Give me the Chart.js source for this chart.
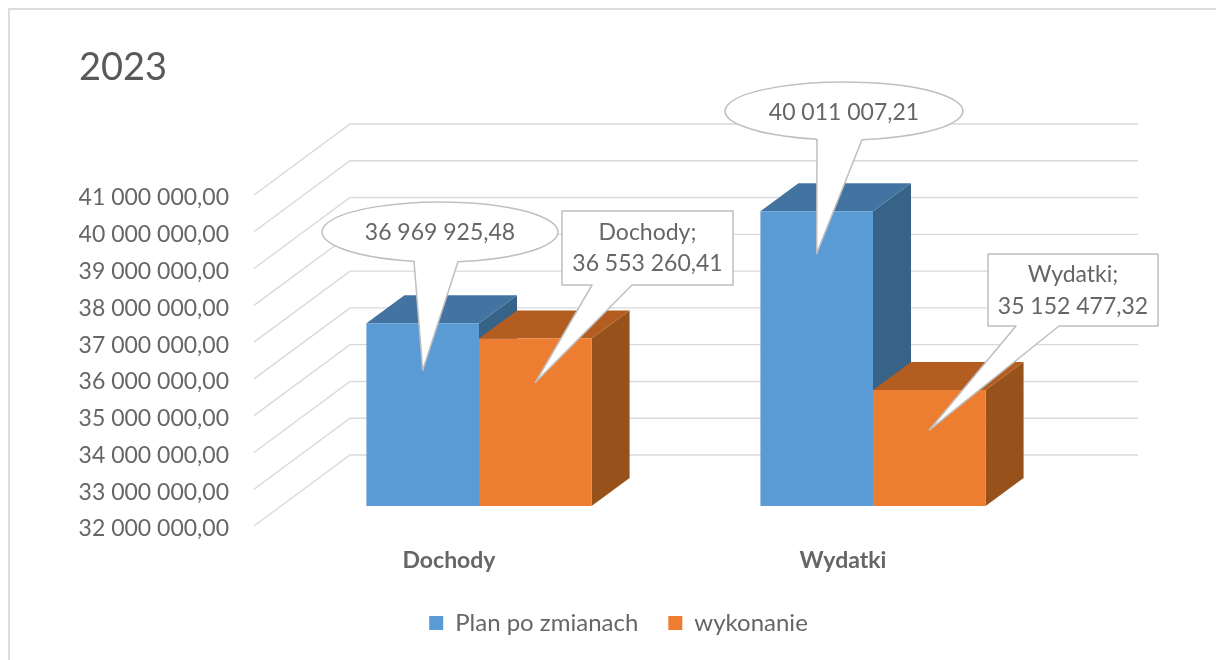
<!DOCTYPE html>
<html lang="pl">
<head>
<meta charset="utf-8">
<title>2023</title>
<style>html,body{margin:0;padding:0;background:#fff}canvas{display:block}</style>
<script src="https://cdn.jsdelivr.net/npm/chart.js@4/dist/chart.umd.min.js"></script>
</head>
<body>
<canvas id="c" width="1216" height="660"></canvas>
<script>
const categories = ["Dochody", "Wydatki"];
const planValues = [36969925.48, 40011007.21];
const actualValues = [36553260.41, 35152477.32];
const seriesNames = ["Plan po zmianach", "wykonanie"];
const axisMin = 32000000, axisMax = 41000000, axisStep = 1000000;

const FONT = "Lato, 'Open Sans', sans-serif";
const TEXT = "#666666";
const fmt = v => {
  const [i, d] = Math.abs(v).toFixed(2).split(".");
  return i.replace(/\B(?=(\d{3})+$)/g, " ") + "," + d;
};

const shades = [
  {top: "#4374A1", side: "#376388"},
  {top: "#B35D20", side: "#97521B"}
];
const barDepth = {dx: 38, dy: -28};
const wallDepth = {dx: 96, dy: -71};
const wallFrontX = 254, wallEndX = 1138, tickDrop = 20;

// One callout per bar: shape, balloon box, tail base on the balloon, tip offset under the bar top.
const callouts = [
  {ds: 0, i: 0, kind: "ellipse", cx: 440, cy: 232, rx: 118, ry: 30, base: [414, 458], tip: 47, lines: v => [fmt(v)], ty: [233]},
  {ds: 1, i: 0, kind: "rect", x0: 562, x1: 733, y0: 211, y1: 285, base: [592, 632], tip: 44, lines: (v, c) => [c + ";", fmt(v)], ty: [233, 264]},
  {ds: 0, i: 1, kind: "ellipse", cx: 844, cy: 111, rx: 119, ry: 29, base: [817, 862], tip: 42, lines: v => [fmt(v)], ty: [113]},
  {ds: 1, i: 1, kind: "rect", x0: 988, x1: 1158, y0: 254, y1: 326, base: [1016, 1059], tip: 40, lines: (v, c) => [c + ";", fmt(v)], ty: [275, 307]}
];

const scene = {
  id: "scene",
  beforeDraw(chart) {
    const c = chart.ctx;
    c.save();
    c.strokeStyle = "#dcdcdc"; c.lineWidth = 2;
    c.beginPath(); c.moveTo(1216, 9); c.lineTo(9, 9); c.lineTo(9, 660); c.stroke();
    c.restore();
    // put the legend where the reference has it
    const lg = chart.legend;
    if (!lg._moved) { lg.left += 44; lg.right += 44; lg.top = 581; lg._moved = true; }
  },
  beforeDatasetsDraw(chart) {
    const c = chart.ctx, y = chart.scales.y;
    c.save();
    c.strokeStyle = "#d9d9d9"; c.lineWidth = 1.4;
    y.ticks.forEach((t, k) => {
      const p = y.getPixelForTick(k) + tickDrop;
      c.beginPath();
      c.moveTo(wallFrontX, p);
      c.lineTo(wallFrontX + wallDepth.dx, p + wallDepth.dy);
      c.lineTo(wallEndX, p + wallDepth.dy);
      c.stroke();
    });
    chart.data.datasets.forEach((ds, d) => {
      chart.getDatasetMeta(d).data.forEach(b => {
        const l = b.x - b.width / 2, r = b.x + b.width / 2, t = b.y, bt = b.base;
        c.fillStyle = shades[d].side;
        c.beginPath();
        c.moveTo(r, t); c.lineTo(r + barDepth.dx, t + barDepth.dy);
        c.lineTo(r + barDepth.dx, bt + barDepth.dy); c.lineTo(r, bt);
        c.closePath(); c.fill();
        c.fillStyle = shades[d].top;
        c.beginPath();
        c.moveTo(l, t); c.lineTo(l + barDepth.dx, t + barDepth.dy);
        c.lineTo(r + barDepth.dx, t + barDepth.dy); c.lineTo(r, t);
        c.closePath(); c.fill();
      });
    });
    c.restore();
  },
  afterDatasetsDraw(chart) {
    const c = chart.ctx;
    c.save();
    c.lineJoin = "round";
    callouts.forEach(o => {
      const b = chart.getDatasetMeta(o.ds).data[o.i];
      const val = chart.data.datasets[o.ds].data[o.i];
      const tx = b.x, ty = b.y + o.tip;
      c.beginPath();
      if (o.kind === "ellipse") {
        const at = x => Math.sqrt(1 - ((x - o.cx) / o.rx) ** 2);
        const a0 = Math.atan2(at(o.base[1]), (o.base[1] - o.cx) / o.rx);
        const a2 = Math.atan2(at(o.base[0]), (o.base[0] - o.cx) / o.rx);
        c.ellipse(o.cx, o.cy, o.rx, o.ry, 0, a2, a0 + Math.PI * 2);
        c.lineTo(tx, ty);
      } else {
        c.moveTo(o.x0, o.y0); c.lineTo(o.x1, o.y0); c.lineTo(o.x1, o.y1);
        c.lineTo(o.base[1], o.y1); c.lineTo(tx, ty); c.lineTo(o.base[0], o.y1);
        c.lineTo(o.x0, o.y1);
      }
      c.closePath();
      c.fillStyle = "#fff"; c.fill();
      c.strokeStyle = "#bfbfbf"; c.lineWidth = 1.5; c.stroke();
      c.fillStyle = TEXT;
      c.font = "23px " + FONT;
      c.textAlign = "center"; c.textBaseline = "middle";
      const mid = o.kind === "ellipse" ? o.cx : (o.x0 + o.x1) / 2;
      o.lines(val, categories[o.i]).forEach((s, k) => c.fillText(s, mid, o.ty[k]));
    });
    c.restore();
  }
};

new Chart(document.getElementById("c"), {
  type: "bar",
  data: {
    labels: categories,
    datasets: [
      {label: seriesNames[0], data: planValues, backgroundColor: "#5B9BD5"},
      {label: seriesNames[1], data: actualValues, backgroundColor: "#ED7D31"}
    ]
  },
  options: {
    responsive: false,
    animation: false,
    layout: {padding: {left: 79, right: 146, top: 10, bottom: 0}},
    datasets: {bar: {categoryPercentage: 0.5715, barPercentage: 1, borderWidth: 0, base: axisMin}},
    scales: {
      x: {
        grid: {display: false, drawTicks: false},
        border: {display: false},
        ticks: {
          labelOffset: -30, padding: 41, color: TEXT, maxRotation: 0,
          font: {family: FONT, size: 23, weight: "bold"}
        },
        afterFit(s) { s.height = 90; }
      },
      y: {
        min: axisMin, max: axisMax,
        grid: {display: false, drawTicks: false},
        border: {display: false},
        afterFit(s) { s.width = 203; },
        ticks: {
          stepSize: axisStep, labelOffset: 23, padding: 53, color: TEXT,
          font: {family: FONT, size: 23},
          callback: v => fmt(v)
        }
      }
    },
    plugins: {
      tooltip: {enabled: false},
      title: {
        display: true, text: "2023", align: "start", color: "#595959",
        font: {family: FONT, size: 38, weight: "normal", lineHeight: 1.105},
        padding: {top: 37, bottom: 86}
      },
      legend: {
        position: "bottom",
        labels: {
          boxWidth: 14, boxHeight: 14, padding: 30, color: TEXT,
          font: {family: FONT, size: 24}
        }
      }
    }
  },
  plugins: [scene]
});
</script>
</body>
</html>
